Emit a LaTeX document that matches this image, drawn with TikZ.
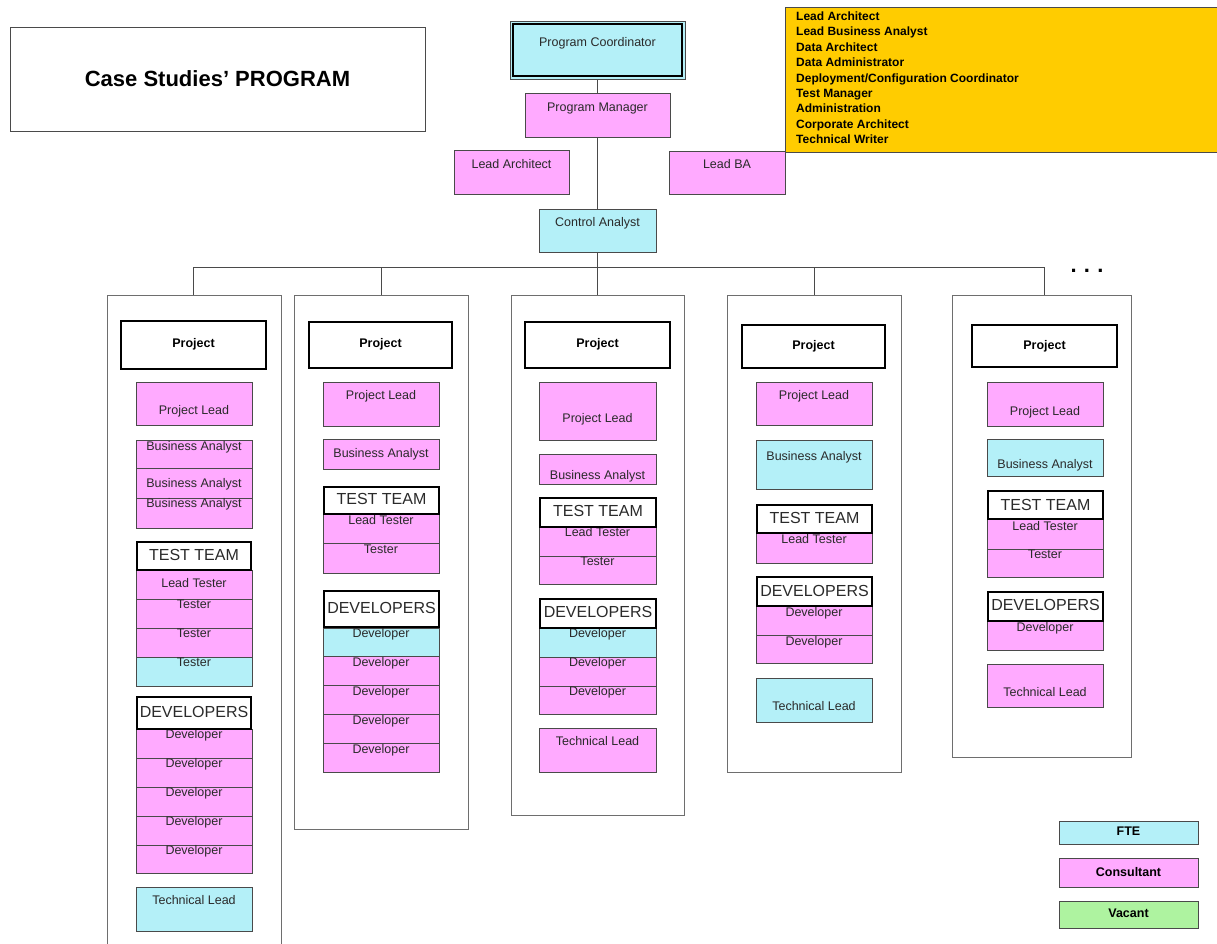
\documentclass[tikz,border=0pt]{standalone}
\usepackage{fontspec}
\setmainfont{Liberation Sans}
\definecolor{fteC}{HTML}{B4F0F8}
\definecolor{conC}{HTML}{FFAAFF}
\definecolor{vacC}{HTML}{AEF3A0}
\definecolor{noteC}{HTML}{FFCC00}
\definecolor{edge}{HTML}{4A4A4A}
\definecolor{ink}{HTML}{2A2A2A}
\tikzset{
  cell/.style={draw=edge, line width=0.9pt, inner sep=0pt, outer sep=0pt},
  fte/.style={cell, fill=fteC},
  con/.style={cell, fill=conC},
  vac/.style={cell, fill=vacC},
  plain/.style={cell, fill=white},
  head/.style={draw=black, line width=2.6pt, fill=white, inner sep=0pt, outer sep=0pt},
  group/.style={draw=edge!80, line width=0.9pt, fill=white, inner sep=0pt, outer sep=0pt},
  lbl/.style={inner sep=0pt, text=ink, font=\fontsize{12.5}{14}\selectfont, text height=9pt, text depth=0pt},
  blbl/.style={inner sep=0pt, text=black, font=\bfseries\fontsize{12.5}{14}\selectfont, text height=9pt, text depth=0pt},
  hlbl/.style={inner sep=0pt, text=ink, font=\fontsize{16}{18}\selectfont, text height=11.5pt, text depth=0pt},
  link/.style={draw=edge, line width=1pt},
}
% box from (x1,y1) to (x2,y2) with its label centred at height ty
\newcommand\bx[9]{%
  \node[#1, minimum width={(#6-#4)*1pt}, minimum height={(#7-#5)*1pt}] (#3) at ({(#4+#6)/2},{(#5+#7)/2}) {};
  \node[#2] (#3t) at ({(#4+#6)/2},#8) {#9};}
\begin{document}
\begin{tikzpicture}[x=1pt,y=-1pt]
\useasboundingbox (0,0) rectangle (1217,943);
\fill[white] (0,0) rectangle (1217,943);

% title
\bx{plain}{inner sep=0pt, font=\bfseries\fontsize{22}{24}\selectfont, text height=16pt, text depth=0pt}{title}{10}{27}{425}{131}{78}{Case Studies’ PROGRAM}

% note listing the program-level roles
\node[cell, fill=noteC, minimum width=440pt, minimum height=145pt, anchor=north west] (note) at (785,7) {};
\node[anchor=north west, align=left, inner sep=0pt, text=black,
      font=\bfseries\fontsize{12}{15.4}\selectfont] (notet) at (796,11.5)
  {Lead Architect\\Lead Business Analyst\\Data Architect\\Data Administrator\\
   Deployment/Configuration Coordinator\\Test Manager\\Administration\\
   Corporate Architect\\Technical Writer};

% program level
\bx{fte}{lbl}{pc}{510}{21}{685}{79}{42}{Program Coordinator}
\draw[black, line width=1.2pt] ([shift={(3,3)}]pc.north west) rectangle ([shift={(-3,-3)}]pc.south east);
\bx{con}{lbl}{pm}{525}{93}{670}{137}{107}{Program Manager}
\bx{con}{lbl}{la}{454}{150}{569}{194}{164}{Lead Architect}
\bx{con}{lbl}{lba}{669}{151}{785}{194}{164}{Lead BA}
\bx{fte}{lbl}{ca}{539}{209}{656}{252}{222}{Control Analyst}

\draw[link] (pc.south) -- (pm.north);
\draw[link] (pm.south) -- (ca.north);

% project groups
\node[group, minimum width=174pt, minimum height=680pt, anchor=north west] (g1) at (107,295) {};
\node[group, minimum width=174pt, minimum height=534pt, anchor=north west] (g2) at (294,295) {};
\node[group, minimum width=173pt, minimum height=520pt, anchor=north west] (g3) at (511,295) {};
\node[group, minimum width=174pt, minimum height=477pt, anchor=north west] (g4) at (727,295) {};
\node[group, minimum width=179pt, minimum height=462pt, anchor=north west] (g5) at (952,295) {};

\coordinate (bus) at (597.5,267);
\coordinate (d1) at (193,295);
\coordinate (d5) at (1044,295);
\draw[link] (ca.south) -- (bus);
\draw[link] (d1) -- (d1 |- bus) -- (d5 |- bus) -- (d5);
\draw[link] (g2.north) -- (g2.north |- bus);
\draw[link] (g3.north) -- (g3.north |- bus);
\draw[link] (g4.north) -- (g4.north |- bus);
\node[anchor=base, inner sep=0pt, font=\bfseries\fontsize{22}{24}\selectfont] (more) at (1087,272) {.\,\,.\,\,.};

% project 1
\bx{head}{blbl}{p1}{121}{321}{266}{369}{343}{Project}
\bx{con}{lbl}{p1pl}{136}{382}{252}{425}{410}{Project Lead}
\bx{con}{lbl}{p1ba1}{136}{440}{252}{468}{446}{Business Analyst}
\bx{con}{lbl}{p1ba2}{136}{468}{252}{498}{483}{Business Analyst}
\bx{con}{lbl}{p1ba3}{136}{498}{252}{528}{503}{Business Analyst}
\bx{con}{lbl}{p1lt}{136}{570}{252}{599}{583}{Lead Tester}
\bx{con}{lbl}{p1t1}{136}{599}{252}{628}{604}{Tester}
\bx{con}{lbl}{p1t2}{136}{628}{252}{657}{633}{Tester}
\bx{fte}{lbl}{p1t3}{136}{657}{252}{686}{662}{Tester}
\bx{head}{hlbl}{p1tt}{137}{542}{251}{570}{555}{TEST TEAM}
\bx{con}{lbl}{p1d1}{136}{729}{252}{758}{734}{Developer}
\bx{con}{lbl}{p1d2}{136}{758}{252}{787}{763}{Developer}
\bx{con}{lbl}{p1d3}{136}{787}{252}{816}{792}{Developer}
\bx{con}{lbl}{p1d4}{136}{816}{252}{845}{821}{Developer}
\bx{con}{lbl}{p1d5}{136}{845}{252}{873}{850}{Developer}
\bx{head}{hlbl}{p1dv}{137}{697}{251}{729}{712}{DEVELOPERS}
\bx{fte}{lbl}{p1tl}{136}{887}{252}{931}{900}{Technical Lead}

% project 2
\bx{head}{blbl}{p2}{309}{322}{452}{368}{343}{Project}
\bx{con}{lbl}{p2pl}{323}{382}{439}{426}{395}{Project Lead}
\bx{con}{lbl}{p2ba}{323}{439}{439}{469}{453}{Business Analyst}
\bx{con}{lbl}{p2lt}{323}{514}{439}{543}{520}{Lead Tester}
\bx{con}{lbl}{p2t1}{323}{543}{439}{573}{549}{Tester}
\bx{head}{hlbl}{p2tt}{324}{487}{439}{514}{499}{TEST TEAM}
\bx{fte}{lbl}{p2d1}{323}{628}{439}{656}{633}{Developer}
\bx{con}{lbl}{p2d2}{323}{656}{439}{685}{662}{Developer}
\bx{con}{lbl}{p2d3}{323}{685}{439}{714}{691}{Developer}
\bx{con}{lbl}{p2d4}{323}{714}{439}{743}{720}{Developer}
\bx{con}{lbl}{p2d5}{323}{743}{439}{772}{749}{Developer}
\bx{head}{hlbl}{p2dv}{324}{591}{439}{627}{608}{DEVELOPERS}

% project 3
\bx{head}{blbl}{p3}{525}{322}{670}{368}{343}{Project}
\bx{con}{lbl}{p3pl}{539}{382}{656}{440}{418}{Project Lead}
\bx{con}{lbl}{p3ba}{539}{454}{656}{484}{475}{Business Analyst}
\bx{con}{lbl}{p3lt}{539}{527}{656}{556}{532}{Lead Tester}
\bx{con}{lbl}{p3t1}{539}{556}{656}{584}{561}{Tester}
\bx{head}{hlbl}{p3tt}{540}{498}{656}{527}{511}{TEST TEAM}
\bx{fte}{lbl}{p3d1}{539}{628}{656}{657}{633}{Developer}
\bx{con}{lbl}{p3d2}{539}{657}{656}{686}{662}{Developer}
\bx{con}{lbl}{p3d3}{539}{686}{656}{714}{691}{Developer}
\bx{head}{hlbl}{p3dv}{540}{599}{656}{628}{612}{DEVELOPERS}
\bx{con}{lbl}{p3tl}{539}{728}{656}{772}{741}{Technical Lead}

% project 4
\bx{head}{blbl}{p4}{742}{325}{885}{368}{345}{Project}
\bx{con}{lbl}{p4pl}{756}{382}{872}{425}{395}{Project Lead}
\bx{fte}{lbl}{p4ba}{756}{440}{872}{489}{456}{Business Analyst}
\bx{con}{lbl}{p4lt}{756}{533}{872}{563}{539}{Lead Tester}
\bx{head}{hlbl}{p4tt}{757}{505}{872}{533}{518}{TEST TEAM}
\bx{con}{lbl}{p4d1}{756}{606}{872}{635}{612}{Developer}
\bx{con}{lbl}{p4d2}{756}{635}{872}{663}{641}{Developer}
\bx{head}{hlbl}{p4dv}{757}{577}{872}{606}{591}{DEVELOPERS}
\bx{fte}{lbl}{p4tl}{756}{678}{872}{722}{706}{Technical Lead}

% project 5
\bx{head}{blbl}{p5}{972}{325}{1117}{367}{345}{Project}
\bx{con}{lbl}{p5pl}{987}{382}{1103}{426}{411}{Project Lead}
\bx{fte}{lbl}{p5ba}{987}{439}{1103}{476}{464}{Business Analyst}
\bx{con}{lbl}{p5lt}{987}{519}{1103}{549}{526}{Lead Tester}
\bx{con}{lbl}{p5t1}{987}{549}{1103}{577}{554}{Tester}
\bx{head}{hlbl}{p5tt}{988}{491}{1103}{519}{505}{TEST TEAM}
\bx{con}{lbl}{p5d1}{987}{621}{1103}{650}{627}{Developer}
\bx{head}{hlbl}{p5dv}{988}{592}{1103}{621}{605}{DEVELOPERS}
\bx{con}{lbl}{p5tl}{987}{664}{1103}{707}{692}{Technical Lead}

% legend
\bx{fte}{blbl}{kf}{1059}{821}{1198}{844}{831}{FTE}
\bx{con}{blbl}{kc}{1059}{858}{1198}{887}{872}{Consultant}
\bx{vac}{blbl}{kv}{1059}{901}{1198}{928}{913}{Vacant}
\end{tikzpicture}
\end{document}
